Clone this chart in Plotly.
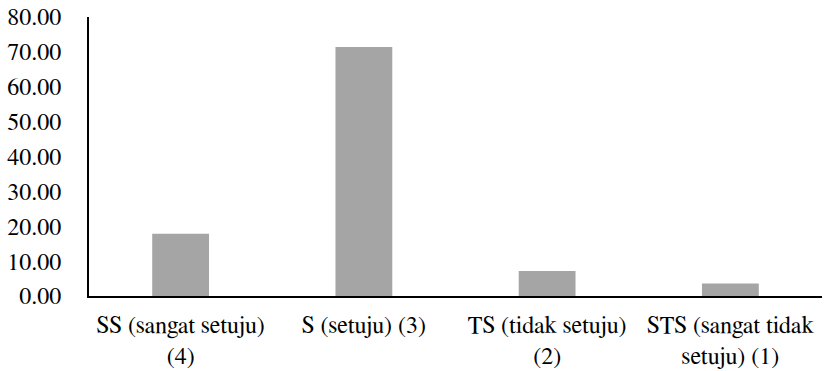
import plotly.graph_objects as go

# Response categories and their share of respondents (%)
categories = ["SS (sangat setuju)<br>(4)", "S (setuju) (3)", "TS (tidak setuju)<br>(2)", "STS (sangat tidak<br>setuju) (1)"]
percentages = [17.86, 71.43, 7.14, 3.57]
y_ticks = [0, 10, 20, 30, 40, 50, 60, 70, 80]

fig = go.Figure(
    go.Bar(
        x=categories,
        y=percentages,
        marker=dict(color="#A5A5A5", line=dict(width=0)),
        width=0.31,
    )
)

font_family = "Nimbus Roman, FreeSerif, Noto Serif, DejaVu Serif"

fig.update_layout(
    width=824,
    height=371,
    margin=dict(l=89, r=2, t=17, b=75),
    paper_bgcolor="white",
    plot_bgcolor="white",
    showlegend=False,
    font=dict(family=font_family, size=24, color="#000000"),
    bargap=0.69,
)

fig.update_xaxes(
    showline=True,
    linecolor="#000000",
    linewidth=2,
    showgrid=False,
    ticks="",
    tickfont=dict(family=font_family, size=24, color="#000000"),
    ticklabelstandoff=6,
)

fig.update_yaxes(
    range=[0, 80],
    tickvals=y_ticks,
    tickformat=".2f",
    showline=True,
    linecolor="#000000",
    linewidth=2,
    showgrid=False,
    zeroline=False,
    ticks="",
    tickfont=dict(family=font_family, size=24, color="#000000"),
    ticklabelstandoff=21,
)

fig.write_html("out.html")
